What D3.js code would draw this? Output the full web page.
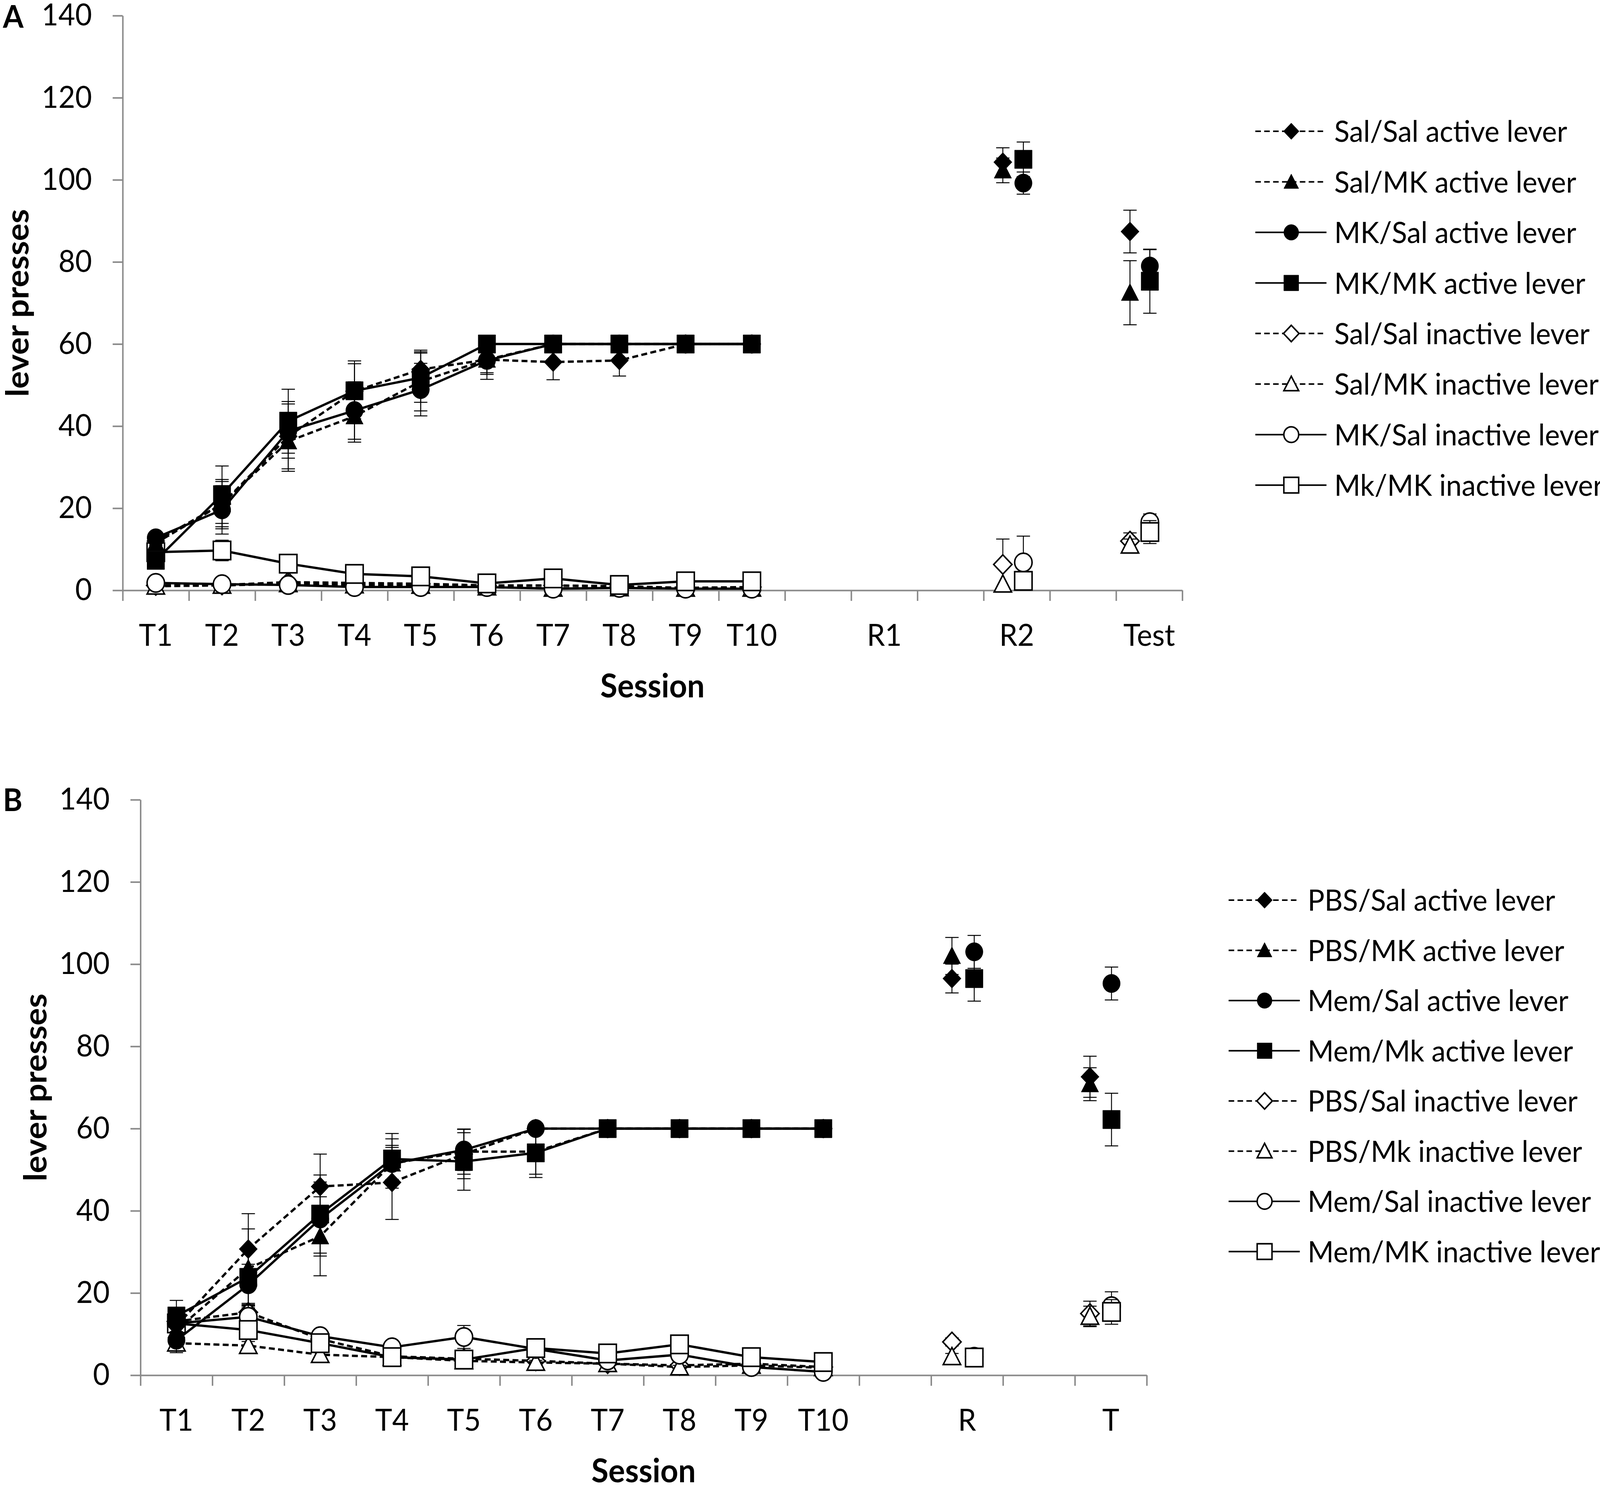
<!DOCTYPE html>
<html>
<head>
<meta charset="utf-8">
<script src="https://cdn.jsdelivr.net/npm/d3@7"></script>
<style>
  html, body { margin: 0; padding: 0; background: #fff; overflow: hidden; }
  #chart svg { display: block; width: 100vw; height: 100vh; }
  text { font-family: Lato, "Open Sans", sans-serif; fill: #000; }
</style>
</head>
<body>
<div id="chart"></div>
<script>
// Session labels ("" = empty category slot on the axis)
const sessionsA = ["T1", "T2", "T3", "T4", "T5", "T6", "T7", "T8", "T9", "T10", "", "R1", "", "R2", "", "Test"];
const sessionsB = ["T1", "T2", "T3", "T4", "T5", "T6", "T7", "T8", "T9", "T10", "", "R", "", "T"];
const yTicks = [0, 20, 40, 60, 80, 100, 120, 140];

// Panel A series
const namesA = ["Sal/Sal active lever", "Sal/MK active lever", "MK/Sal active lever", "MK/MK active lever",
                "Sal/Sal inactive lever", "Sal/MK inactive lever", "MK/Sal inactive lever", "Mk/MK inactive lever"];
const salSalActA   = [12, 21, 37.5, 48.5, 53.8, 56.2, 55.6, 56, 60, 60, null, null, null, 104.3, null, 87.4];
const salMkActA    = [11.5, 21, 36.3, 42.4, 50.9, 56.2, 60, 60, 60, 60, null, null, null, 102.3, null, 72.5];
const mkSalActA    = [12.8, 19.6, 38.8, 43.8, 48.9, 56, 60, 60, 60, 60, null, null, null, 99.2, null, 79];
const mkMkActA     = [7.3, 23.3, 41.2, 48.6, 51.8, 60, 60, 60, 60, 60, null, null, null, 105, null, 75.3];
const salSalInA    = [1.2, 1.3, 2, 1.8, 1.6, 1.2, 1.2, 1, 0.6, 0.8, null, null, null, 6.3, null, 12];
const salMkInA     = [1, 1.2, 1.6, 1.3, 1.2, 0.8, 0.5, 0.6, 0.5, 0.5, null, null, null, 1.5, null, 11];
const mkSalInA     = [1.8, 1.5, 1.3, 0.8, 0.8, 0.8, 0.4, 0.6, 0.4, 0.4, null, null, null, 6.8, null, 16.6];
const mkMkInA      = [9.3, 9.7, 6.5, 4, 3.4, 1.7, 2.9, 1.3, 2.2, 2.2, null, null, null, 2.3, null, 14.2];
const salSalActSemA = [1, 6, 8.5, 6.7, 4.7, 3.6, 4.3, 3.8, 0, 0, null, null, null, 3.5, null, 5.2];
const salMkActSemA  = [1, 5.5, 6.7, 6.3, 7.2, 4.8, 0, 0, 0, 0, null, null, null, 3, null, 7.8];
const mkSalActSemA  = [1, 5.9, 6.6, 7, 6.4, 3, 0, 0, 0, 0, null, null, null, 2.7, null, 4];
const mkMkActSemA   = [1.5, 7, 7.8, 7.3, 6, 0, 0, 0, 0, 0, null, null, null, 4.2, null, 7.8];
const salSalInSemA  = [0.5, 0.5, 0.8, 0.6, 0.5, 0.4, 0.4, 0.3, 0.3, 0.3, null, null, null, 6.2, null, 2];
const salMkInSemA   = [0.5, 0.5, 0.6, 0.5, 0.4, 0.3, 0.3, 0.3, 0.2, 0.2, null, null, null, 0, null, 1.5];
const mkSalInSemA   = [0.6, 0.5, 0.5, 0.4, 0.4, 0.3, 0.2, 0.3, 0.2, 0.2, null, null, null, 6.4, null, 2];
const mkMkInSemA    = [0.8, 2.5, 1.7, 0.6, 0.8, 0.5, 1, 0.4, 0.5, 0.5, null, null, null, 0, null, 2.8];

// Panel B series
const namesB = ["PBS/Sal active lever", "PBS/MK active lever", "Mem/Sal active lever", "Mem/Mk active lever",
                "PBS/Sal inactive lever", "PBS/Mk inactive lever", "Mem/Sal inactive lever", "Mem/MK inactive lever"];
const pbsSalActB   = [12, 30.7, 45.9, 46.9, 53.8, 60, 60, 60, 60, 60, null, 96.5, null, 72.6];
const pbsMkActB    = [11, 26, 33.8, 51.5, 54.4, 54.4, 60, 60, 60, 60, null, 102, null, 70.8];
const memSalActB   = [8.5, 22, 38, 51.5, 54.8, 60, 60, 60, 60, 60, null, 103, null, 95.3];
const memMkActB    = [14.4, 23.8, 39.2, 52.6, 52, 54.1, 60, 60, 60, 60, null, 96.5, null, 62.2];
const pbsSalInB    = [13.1, 15.3, 8.8, 4.6, 4, 3.5, 2.8, 2.4, 2.8, 2, null, 8.1, null, 15];
const pbsMkInB     = [7.8, 7.2, 5, 4.4, 3.5, 3.1, 2.8, 2, 2.4, 1.8, null, 4.5, null, 14.3];
const memSalInB    = [12.6, 14.2, 9.5, 6.8, 9.3, 6.4, 3.6, 5, 2, 0.8, null, 4.5, null, 16.8];
const memMkInB     = [12.6, 11, 7.8, 4.4, 3.8, 6.6, 5.3, 7.5, 4.4, 3.2, null, 4.3, null, 15.4];
const pbsSalActSemB = [3, 8.6, 7.9, 9, 6, 0, 0, 0, 0, 0, null, 3.5, null, 5];
const pbsMkActSemB  = [3, 9.6, 9.6, 3.9, 5.5, 5.5, 0, 0, 0, 0, null, 4.5, null, 4];
const memSalActSemB = [3, 5, 9, 6, 5, 0, 0, 0, 0, 0, null, 4, null, 4];
const memMkActSemB  = [3.8, 6.3, 9.5, 6.2, 7, 6, 0, 0, 0, 0, null, 5.5, null, 6.4];
const pbsSalInSemB  = [1.5, 1.5, 1, 0.8, 0.8, 0.6, 0.5, 0.5, 0.5, 0.4, null, 1, null, 3];
const pbsMkInSemB   = [1, 1, 0.8, 0.6, 0.6, 0.5, 0.5, 0.4, 0.4, 0.3, null, 0.8, null, 2.5];
const memSalInSemB  = [1.5, 3, 1, 0.8, 2.8, 0.8, 0.6, 0.8, 0.5, 0.3, null, 1.2, null, 3.5];
const memMkInSemB   = [1.5, 1.5, 1, 0.6, 0.6, 1, 0.8, 1, 0.6, 0.5, null, 0.8, null, 3];

// marker shape / fill / dash per series slot (same in both panels)
const shapes = ["diamond", "triangle", "circle", "square", "diamond", "triangle", "circle", "square"];
const filled = [true, true, true, true, false, false, false, false];
const dashed = [true, true, false, false, true, true, false, false];
// inactive series sit underneath the active ones
const drawOrder = [4, 5, 6, 7, 0, 1, 2, 3];

const W = 4317, H = 3801;
const svg = d3.select("#chart").append("svg")
    .attr("viewBox", `0 0 ${W} ${H}`)
    .attr("preserveAspectRatio", "none");
svg.append("rect").attr("width", W).attr("height", H).attr("fill", "#fff");

const axisGray = "#8a8a8a";
const mSize = 47;

function markerPath(shape, s) {
    const h = s / 2;
    if (shape === "square") return `M${-h},${-h}H${h}V${h}H${-h}Z`;
    if (shape === "diamond") { const d = h * 1.05; return `M0,${-d}L${d},0L0,${d}L${-d},0Z`; }
    if (shape === "triangle") return `M0,${-h}L${h},${h * 0.85}L${-h},${h * 0.85}Z`;
    const p = d3.path(); p.arc(0, 0, h, 0, 2 * Math.PI); p.closePath(); return p.toString();
}

function drawMarker(g, shape, isFilled, x, y, s) {
    g.append("path")
        .attr("d", markerPath(shape, s))
        .attr("transform", `translate(${x},${y})`)
        .attr("fill", isFilled ? "#000" : "#fff")
        .attr("stroke", "#000")
        .attr("stroke-width", isFilled ? 1 : 4);
}

function drawPanel(cfg) {
    const g = svg.append("g");
    const n = cfg.sessions.length;
    const idx = d3.range(n);

    const x = d3.scaleBand().domain(idx).range([cfg.x0, cfg.x1]);
    const xEdge = d3.scaleLinear().domain([0, n]).range([cfg.x0, cfg.x1]);
    const y = d3.scaleLinear().domain([0, 140]).range([cfg.y0, cfg.y1]);

    // late sessions (recall / test) are drawn side by side: first treatment left, second right
    const dodge = i => {
        if (i < 10) return 0;
        return i === n - 1 ? [-0.29, 0.01] : [-0.21, 0.10];
    };
    const px = (i, k) => {
        const d = dodge(i);
        const base = x(i) + x.bandwidth() / 2;
        if (!d) return base;
        return base + x.bandwidth() * (cfg.groupOf[k] === 0 ? d[0] : d[1]);
    };

    // y axis
    const yAxis = g.append("g")
        .attr("transform", `translate(${cfg.x0},0)`)
        .call(d3.axisLeft(y).tickValues(yTicks).tickSize(27).tickSizeOuter(0).tickPadding(56));
    yAxis.select(".domain").attr("stroke", axisGray).attr("stroke-width", 4);
    yAxis.selectAll(".tick line").attr("stroke", axisGray).attr("stroke-width", 4);
    yAxis.selectAll(".tick text").attr("font-size", 78).attr("font-family", "Lato").attr("fill", "#000");

    // x axis: tick marks at category edges
    const xAxis = g.append("g")
        .attr("transform", `translate(0,${cfg.y0})`)
        .call(d3.axisBottom(xEdge).tickValues(d3.range(n + 1)).tickSize(27).tickSizeOuter(0).tickFormat(""));
    xAxis.select(".domain").attr("stroke", axisGray).attr("stroke-width", 4);
    xAxis.selectAll(".tick line").attr("stroke", axisGray).attr("stroke-width", 4);

    // x axis: category labels
    const xLab = g.append("g")
        .attr("transform", `translate(0,${cfg.y0})`)
        .call(d3.axisBottom(x).tickSize(0).tickFormat(i => cfg.sessions[i]));
    xLab.select(".domain").remove();
    xLab.selectAll(".tick text")
        .attr("y", 114).attr("dy", "0.36em")
        .attr("font-size", 78).attr("font-family", "Lato").attr("fill", "#000");

    // axis titles
    g.append("text")
        .attr("x", (cfg.x0 + cfg.x1) / 2).attr("y", cfg.y0 + 244).attr("dy", "0.36em")
        .attr("text-anchor", "middle").attr("font-size", 84).attr("font-weight", "bold")
        .text("Session");
    g.append("text")
        .attr("transform", `translate(${cfg.x0 - 284},${(cfg.y0 + cfg.y1) / 2}) rotate(-90)`)
        .attr("dy", "0.36em")
        .attr("text-anchor", "middle").attr("font-size", 84).attr("font-weight", "bold")
        .text("lever presses");
    g.append("text")
        .attr("x", cfg.labelX).attr("y", cfg.labelY).attr("dy", "0.36em")
        .attr("font-size", 80).attr("font-weight", "bold")
        .text(cfg.letter);

    const line = d3.line()
        .defined(d => d.v != null)
        .x(d => d.x).y(d => y(d.v));

    // error bars, line and markers, series by series
    drawOrder.forEach(k => {
        const vals = cfg.values[k];
        const pts = vals.map((v, i) => ({ v, e: cfg.sems[k][i], x: px(i, k) }));

        const eg = g.append("g").attr("stroke", "#000").attr("stroke-width", 2.5);
        pts.forEach(p => {
            if (p.v == null || !p.e) return;
            eg.append("line").attr("x1", p.x).attr("x2", p.x).attr("y1", y(p.v - p.e)).attr("y2", y(p.v + p.e));
            [p.v - p.e, p.v + p.e].forEach(t => eg.append("line")
                .attr("x1", p.x - 18).attr("x2", p.x + 18).attr("y1", y(t)).attr("y2", y(t)));
        });

        g.append("path")
            .datum(pts)
            .attr("d", line)
            .attr("fill", "none")
            .attr("stroke", "#000")
            .attr("stroke-width", 6)
            .attr("stroke-dasharray", dashed[k] ? "16,9" : null);

        pts.forEach(p => {
            if (p.v == null) return;
            drawMarker(g, shapes[k], filled[k], p.x, y(p.v), mSize);
        });
    });

    // legend
    const lg = g.append("g");
    cfg.names.forEach((name, k) => {
        const ly = cfg.legY + k * cfg.legStep;
        lg.append("line")
            .attr("x1", cfg.legX).attr("x2", cfg.legX + 192)
            .attr("y1", ly).attr("y2", ly)
            .attr("stroke", "#000").attr("stroke-width", 4)
            .attr("stroke-dasharray", dashed[k] ? "15,9" : null);
        drawMarker(lg, shapes[k], filled[k], cfg.legX + 97, ly, 40);
        lg.append("text")
            .attr("x", cfg.legX + 213).attr("y", ly).attr("dy", "0.36em")
            .attr("font-size", 76)
            .text(name);
    });
}

drawPanel({
    letter: "A", labelX: 8, labelY: 42,
    sessions: sessionsA,
    x0: 331, x1: 3190, y0: 1511, y1: 40,
    names: namesA,
    values: [salSalActA, salMkActA, mkSalActA, mkMkActA, salSalInA, salMkInA, mkSalInA, mkMkInA],
    sems: [salSalActSemA, salMkActSemA, mkSalActSemA, mkMkActSemA, salSalInSemA, salMkInSemA, mkSalInSemA, mkMkInSemA],
    groupOf: [0, 0, 1, 1, 0, 0, 1, 1],
    legX: 3387, legY: 336, legStep: 129.4
});

drawPanel({
    letter: "B", labelX: 8, labelY: 2047,
    sessions: sessionsB,
    x0: 379, x1: 3094, y0: 3520, y1: 2047,
    names: namesB,
    values: [pbsSalActB, pbsMkActB, memSalActB, memMkActB, pbsSalInB, pbsMkInB, memSalInB, memMkInB],
    sems: [pbsSalActSemB, pbsMkActSemB, memSalActSemB, memMkActSemB, pbsSalInSemB, pbsMkInSemB, memSalInSemB, memMkInSemB],
    groupOf: [0, 0, 1, 1, 0, 0, 1, 1],
    legX: 3315, legY: 2304, legStep: 128.5
});
</script>
</body>
</html>
